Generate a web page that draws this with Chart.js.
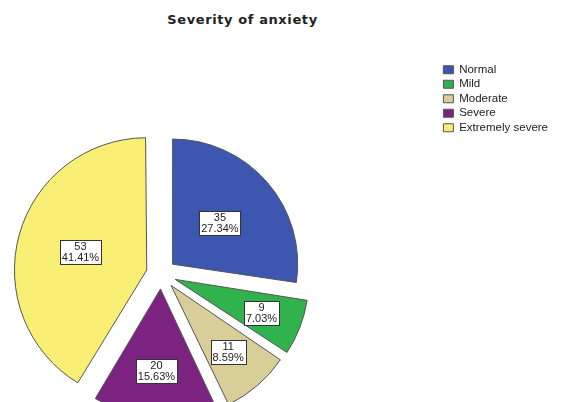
<!DOCTYPE html>
<html>
<head>
<meta charset="utf-8">
<style>
  html, body { margin: 0; padding: 0; overflow: hidden; background: #fff; }
  /* canvas is wider and taller than the window so the pie sits left and runs off the bottom */
  #wrap { position: absolute; left: -118px; top: 0; width: 680px; height: 490px; }
  .title {
    position: absolute; left: 0; top: 12px; width: 485px;
    text-align: center; color: #222;
    font: bold 13px "DejaVu Sans", sans-serif; letter-spacing: 0.6px;
  }
</style>
</head>
<body>
<div class="title">Severity of anxiety</div>
<div id="wrap"><canvas id="anxietyChart"></canvas></div>

<script src="https://cdn.jsdelivr.net/npm/chart.js@4.4.0/dist/chart.umd.min.js"></script>
<script>
const categories = ['Normal', 'Mild', 'Moderate', 'Severe', 'Extremely severe'];
const counts = [35, 9, 11, 20, 53];
const percentLabels = ['27.34%', '7.03%', '8.59%', '15.63%', '41.41%'];

const sliceColors = ['#3d56b0', '#30b24c', '#d7ce98', '#7c2381', '#f8ef74'];

// white boxes with count and percent inside each slice
const sliceLabels = {
    id: 'sliceLabels',
    afterDatasetsDraw(chart, args, opts) {
        const ctx = chart.ctx;
        const meta = chart.getDatasetMeta(0);
        ctx.save();
        ctx.font = opts.font;
        ctx.textAlign = 'center';
        ctx.textBaseline = 'middle';
        meta.data.forEach((arc, i) => {
            const p = arc.getProps(['x', 'y', 'startAngle', 'endAngle', 'outerRadius'], true);
            const mid = (p.startAngle + p.endAngle) / 2;
            const r = (arc.options.offset || 0) / 4 + opts.radius[i] * p.outerRadius;
            const cx = p.x + Math.cos(mid) * r;
            const cy = p.y + Math.sin(mid) * r;
            const lines = [String(counts[i]), percentLabels[i]];
            const w = Math.round(Math.max(...lines.map(t => ctx.measureText(t).width)) + 4);
            const h = opts.lineHeight * 2 + 2;
            const x0 = Math.round(cx - w / 2) + 0.5;
            const y0 = Math.round(cy - h / 2) + 0.5;
            ctx.fillStyle = '#fff';
            ctx.fillRect(x0, y0, w, h);
            ctx.strokeStyle = '#333';
            ctx.lineWidth = 1;
            ctx.strokeRect(x0, y0, w, h);
            ctx.fillStyle = '#222';
            ctx.fillText(lines[0], cx, y0 + 1 + opts.lineHeight / 2);
            ctx.fillText(lines[1], cx, y0 + 1 + opts.lineHeight * 1.5);
        });
        ctx.restore();
    }
};

document.addEventListener('DOMContentLoaded', function() {
    const ctx = document.getElementById('anxietyChart').getContext('2d');
    new Chart(ctx, {
        type: 'pie',
        data: {
            labels: categories,
            datasets: [{
                data: counts,
                backgroundColor: sliceColors,
                borderColor: '#555',
                borderWidth: 1,
                offset: 60,
                clip: false
            }]
        },
        options: {
            responsive: true,
            maintainAspectRatio: false,
            animation: false,
            radius: 125,
            layout: {
                padding: { top: 61, right: 4, bottom: 3, left: 0 }
            },
            plugins: {
                legend: {
                    position: 'right',
                    align: 'start',
                    labels: {
                        boxWidth: 10,
                        boxHeight: 8,
                        padding: 3,
                        color: '#222',
                        font: { family: '"Liberation Sans", Arial, sans-serif', size: 11.5 }
                    }
                },
                tooltip: { enabled: false },
                sliceLabels: {
                    font: '11px "Liberation Sans", Arial, sans-serif',
                    lineHeight: 11,
                    radius: [0.5, 0.74, 0.7, 0.66, 0.55]
                }
            }
        },
        plugins: [sliceLabels]
    });
});
</script>
</body>
</html>
